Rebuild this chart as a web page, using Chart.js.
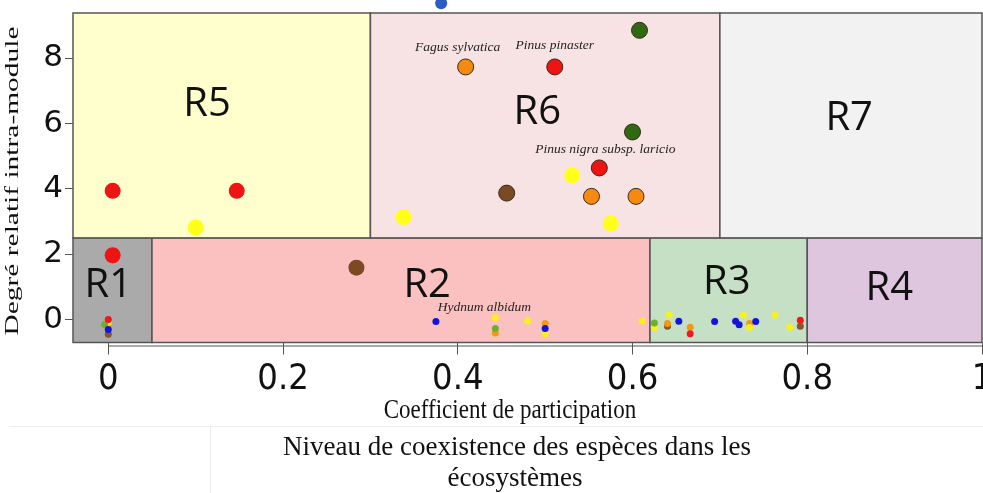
<!DOCTYPE html>
<html lang="fr">
<head>
<meta charset="utf-8">
<title>Rôles des espèces</title>
<script src="https://cdn.jsdelivr.net/npm/chart.js@4/dist/chart.umd.min.js"></script>
<style>
  html, body { margin: 0; padding: 0; background: #fff; }
  #wrap { width: 983px; height: 493px; position: relative; }
</style>
</head>
<body>
<div id="wrap"><canvas id="roles"></canvas></div>
<script>
// bornes des axes
const xMin = -0.0404, xMax = 1.0;
const yMin = -0.70, yMax = 9.38;
const xTicks = [0, 0.2, 0.4, 0.6, 0.8, 1];
const yTicks = [0, 2, 4, 6, 8];

// régions R1..R7 (coefficient de participation / degré relatif intra-module)
const regionNames = ['R1', 'R2', 'R3', 'R4', 'R5', 'R6', 'R7'];
const regionX0 = [xMin, 0.05, 0.62, 0.80, xMin, 0.30, 0.70];
const regionX1 = [0.05, 0.62, 0.80, xMax, 0.30, 0.70, xMax];
const regionY0 = [yMin, yMin, yMin, yMin, 2.5, 2.5, 2.5];
const regionY1 = [2.5, 2.5, 2.5, 2.5, yMax, yMax, yMax];
const regionLabelX = [0.0, 0.365, 0.708, 0.894, 0.113, 0.491, 0.848];
const regionLabelY = [1.05, 1.05, 1.14, 0.96, 6.59, 6.34, 6.16];

// espèces "hub" (gros points)
const hubRouge = [[0.005, 3.94], [0.147, 3.94], [0.005, 1.97], [0.511, 7.73], [0.562, 4.64]];
const hubOrange = [[0.409, 7.73], [0.553, 3.77], [0.604, 3.77]];
const hubJaune = [[0.100, 2.82], [0.338, 3.14], [0.531, 4.41], [0.575, 2.94]];
const hubVert = [[0.608, 8.85], [0.600, 5.74]];
const hubBrun = [[0.456, 3.87], [0.284, 1.59]];
const hubBleu = [[0.381, 9.68]];

// espèces périphériques (petits points autour de 0)
const perRouge = [[0.0, 0.0], [0.666, -0.43], [0.792, -0.02]];
const perOrange = [[0.0, -0.18], [0.443, -0.41], [0.500, -0.12], [0.640, -0.12], [0.666, -0.23], [0.734, -0.12]];
const perJaune = [[0.0, -0.09], [0.443, 0.06], [0.480, -0.04], [0.500, -0.43], [0.611, -0.04], [0.625, -0.24],
                  [0.642, 0.15], [0.727, 0.14], [0.734, -0.24], [0.763, 0.13], [0.780, -0.23]];
const perVert = [[-0.004, -0.15], [0.443, -0.27], [0.625, -0.10]];
const perBleu = [[0.0, -0.30], [0.375, -0.06], [0.500, -0.27], [0.653, -0.05], [0.694, -0.06],
                 [0.718, -0.05], [0.722, -0.16], [0.741, -0.06]];
const perBrun = [[0.0, -0.45], [0.640, -0.20], [0.792, -0.20]];

// noms d'espèces annotés
const especes = ['Fagus sylvatica', 'Pinus pinaster', 'Pinus nigra subsp. laricio', 'Hydnum albidum'];
const especesX = [0.409, 0.511, 0.562, 0.443];
const especesY = [7.73, 7.73, 4.64, 0.06];

const titreX = 'Coefficient de participation';
const titreY = 'Degré relatif intra-module';
const sousTitre = ['Niveau de coexistence des espèces dans les', 'écosystèmes'];

// styles
const regionColors = ['#aaaaaa', '#fbc0c0', '#c6e0c6', '#dfc6df', '#ffffcd', '#f7e3e3', '#f2f2f2'];
const labelOffsets = [[-8, -19], [0, -21], [6, -18], [-11, -10]];

const pts = a => a.map(([x, y]) => ({ x, y }));
// contour foncé seulement pour les hubs de la région R6
const bordR6 = c => (c.raw && c.raw.x > 0.3 && c.raw.y > 2.5) ? 1 : 0;

function hub(data, color, withBorder) {
    return {
        data: pts(data),
        backgroundColor: color,
        borderColor: '#3a2a1a',
        borderWidth: withBorder ? bordR6 : 0,
        pointRadius: 8,
        pointHoverRadius: 8
    };
}
function periph(data, color) {
    return {
        data: pts(data),
        backgroundColor: color,
        borderWidth: 0,
        pointRadius: 3.5,
        pointHoverRadius: 3.5
    };
}

const datasets = [
    periph(perBleu, '#1414d8'),
    periph(perRouge, '#f01818'),
    periph(perVert, '#6cb030'),
    periph(perJaune, '#f8f020'),
    periph(perOrange, '#f29a10'),
    periph(perBrun, '#84562a'),
    hub(hubRouge, '#ee1414', true),
    hub(hubOrange, '#f68a10', true),
    hub(hubVert, '#2f6a12', true),
    hub(hubBrun, '#7c4a22', true),
    hub(hubJaune, '#ffff18', false),
    // point au-dessus du cadre : hoverRadius élargi pour qu'il ne soit pas écarté hors zone
    Object.assign(hub(hubBleu, '#2a5cc4', false), { pointRadius: 6, pointHoverRadius: 14, clip: false })
];

const fondRegions = {
    id: 'fondRegions',
    beforeDatasetsDraw(chart) {
        const { ctx, scales: { x, y } } = chart;
        ctx.save();
        regionNames.forEach((nom, i) => {
            const l = x.getPixelForValue(regionX0[i]);
            const r = x.getPixelForValue(regionX1[i]);
            const t = y.getPixelForValue(regionY1[i]);
            const b = y.getPixelForValue(regionY0[i]);
            ctx.fillStyle = regionColors[i];
            ctx.fillRect(l, t, r - l, b - t);
            ctx.strokeStyle = '#555';
            ctx.lineWidth = 1.5;
            ctx.strokeRect(l, t, r - l, b - t);
        });
        ctx.fillStyle = '#111';
        ctx.font = '40px "Open Sans"';
        ctx.textAlign = 'center';
        ctx.textBaseline = 'middle';
        regionNames.forEach((nom, i) => {
            ctx.fillText(nom, x.getPixelForValue(regionLabelX[i]), y.getPixelForValue(regionLabelY[i]));
        });
        // ligne d'axe sous le cadre, de 0 à 1
        const base = chart.chartArea.bottom + 3.5;
        ctx.strokeStyle = '#555';
        ctx.lineWidth = 1;
        ctx.beginPath();
        ctx.moveTo(x.getPixelForValue(xTicks[0]), base);
        ctx.lineTo(x.getPixelForValue(xTicks[xTicks.length - 1]), base);
        ctx.stroke();
        ctx.restore();
    },
    afterDatasetsDraw(chart) {
        const { ctx, scales: { x, y } } = chart;
        ctx.save();
        ctx.fillStyle = '#222';
        ctx.font = 'italic 13.5px "Liberation Serif"';
        ctx.textAlign = 'center';
        ctx.textBaseline = 'middle';
        especes.forEach((nom, i) => {
            const [dx, dy] = labelOffsets[i];
            ctx.fillText(nom, x.getPixelForValue(especesX[i]) + dx, y.getPixelForValue(especesY[i]) + dy);
        });
        ctx.restore();
    },
    afterDraw(chart) {
        const { ctx } = chart;
        ctx.save();
        ctx.fillStyle = '#111';
        ctx.textAlign = 'center';
        ctx.textBaseline = 'middle';

        // titre de l'axe y, étiré dans le sens du texte
        ctx.save();
        ctx.translate(13, 181);
        ctx.rotate(-Math.PI / 2);
        ctx.scale(1.55, 1);
        ctx.font = '19px "Liberation Serif"';
        ctx.fillText(titreY, 0, 0);
        ctx.restore();

        ctx.save();
        ctx.translate(510, 411);
        ctx.scale(1, 1.15);
        ctx.font = '23px "Liberation Serif"';
        ctx.fillText(titreX, 0, 0);
        ctx.restore();

        // cadre léger autour du sous-titre
        ctx.strokeStyle = '#ededed';
        ctx.lineWidth = 1;
        ctx.beginPath();
        ctx.moveTo(9, 426.5);
        ctx.lineTo(983, 426.5);
        ctx.moveTo(210.5, 426.5);
        ctx.lineTo(210.5, 493);
        ctx.stroke();

        ctx.font = '27px "Liberation Serif"';
        ctx.fillText(sousTitre[0], 517, 448);
        ctx.fillText(sousTitre[1], 515, 479);
        ctx.restore();
    }
};

new Chart(document.getElementById('roles'), {
    type: 'scatter',
    data: { datasets },
    options: {
        responsive: true,
        maintainAspectRatio: false,
        animation: false,
        events: [],
        layout: { autoPadding: false, padding: { top: 13, right: 1, left: 0, bottom: 0 } },
        plugins: {
            legend: { display: false },
            tooltip: { enabled: false }
        },
        scales: {
            x: {
                type: 'linear',
                min: xMin,
                max: xMax,
                afterBuildTicks: s => { s.ticks = xTicks.map(v => ({ value: v })); },
                afterFit: s => {
                    s.height = 150.5;
                    // le dernier libellé "1" déborde du canevas, sans réduire la zone du graphique
                    s.paddingLeft = 0;
                    s.paddingRight = 0;
                },
                grid: { drawOnChartArea: false, tickLength: 12, color: '#555' },
                border: { display: false },
                ticks: {
                    padding: 4,
                    color: '#111',
                    maxRotation: 0,
                    autoSkip: false,
                    font: { family: '"DejaVu Sans Condensed", "DejaVu Sans"', size: 36 },
                    callback: v => String(v)
                }
            },
            y: {
                type: 'linear',
                min: yMin,
                max: yMax,
                afterBuildTicks: s => { s.ticks = yTicks.map(v => ({ value: v })); },
                afterFit: s => { s.width = 73; s.paddingTop = 0; s.paddingBottom = 0; },
                grid: { drawOnChartArea: false, tickLength: 8, color: '#555' },
                border: { display: false },
                ticks: {
                    padding: 2,
                    color: '#111',
                    font: { family: '"DejaVu Sans"', size: 31 },
                    callback: v => String(v)
                }
            }
        }
    },
    plugins: [fondRegions]
});
</script>
</body>
</html>
